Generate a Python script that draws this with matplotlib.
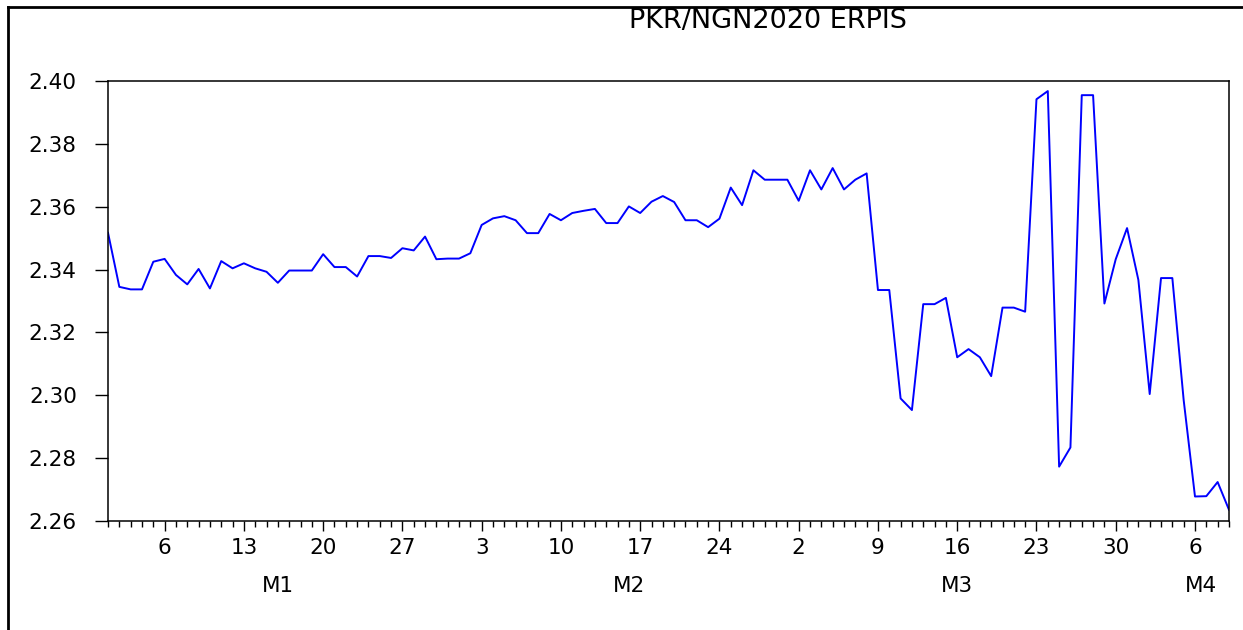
import numpy as np
import pandas as pd
import matplotlib
matplotlib.use('Agg')
import matplotlib.pyplot as plt
import matplotlib.dates as mdates
from matplotlib.lines import Line2D
from matplotlib.transforms import blended_transform_factory

# daily series, 1 Jan 2020 - 9 Apr 2020
start_date = '2020-01-01'
erpis = [
    2.3517, 2.3345, 2.3337, 2.3337, 2.3425, 2.3434, 2.3383, 2.3353, 2.3402, 2.3340,
    2.3427, 2.3404, 2.3420, 2.3404, 2.3393, 2.3358, 2.3397, 2.3397, 2.3397, 2.3449,
    2.3408, 2.3408, 2.3378, 2.3443, 2.3443, 2.3437, 2.3468, 2.3461, 2.3505, 2.3433,
    2.3435, 2.3435, 2.3452, 2.3542, 2.3563, 2.3570, 2.3557, 2.3516, 2.3516, 2.3577,
    2.3557, 2.3580, 2.3587, 2.3593, 2.3548, 2.3548, 2.3601, 2.3580, 2.3616, 2.3634,
    2.3615, 2.3557, 2.3557, 2.3535, 2.3562, 2.3661, 2.3605, 2.3716, 2.3686, 2.3686,
    2.3686, 2.3619, 2.3716, 2.3655, 2.3723, 2.3655, 2.3686, 2.3706, 2.3335, 2.3335,
    2.2990, 2.2953, 2.3290, 2.3290, 2.3310, 2.3121, 2.3147, 2.3121, 2.3061, 2.3279,
    2.3279, 2.3266, 2.3942, 2.3968, 2.2773, 2.2834, 2.3955, 2.3955, 2.3292, 2.3433,
    2.3532, 2.3367, 2.3004, 2.3373, 2.3373, 2.2985, 2.2678, 2.2679, 2.2724, 2.2636,
]
y_ticks = [2.26, 2.28, 2.30, 2.32, 2.34, 2.36, 2.38, 2.40]
month_labels = ['M1', 'M2', 'M3', 'M4']
month_label_dates = ['2020-01-16', '2020-02-16', '2020-03-16', '2020-04-06 12:00']
title = 'PKR/NGN2020 ERPIS'

dates = pd.date_range(start_date, periods=len(erpis), freq='D')

plt.rcParams['font.family'] = ['DejaVu Sans']

fig = plt.figure(figsize=(12.43, 6.30), dpi=100)
ax = fig.add_axes([0.0869, 0.173, 0.9018, 0.6984])

ax.plot(dates, erpis, color='#0000ff', lw=1.4)

ax.set_xlim(dates[0], dates[-1])
ax.set_ylim(2.26, 2.40)
ax.set_yticks(y_ticks)
ax.set_yticklabels([f'{v:.2f}' for v in y_ticks])

ax.xaxis.set_major_locator(mdates.WeekdayLocator(byweekday=mdates.MO))
ax.xaxis.set_major_formatter(plt.FuncFormatter(lambda v, p: str(mdates.num2date(v).day)))
ax.xaxis.set_minor_locator(mdates.DayLocator())

ax.tick_params(axis='y', direction='out', length=9.5, width=1, pad=13, labelsize=15.5)
ax.tick_params(axis='x', which='major', direction='out', length=7.5, width=1, pad=5, labelsize=15.5)
ax.tick_params(axis='x', which='minor', direction='out', length=4.3, width=1)

for s in ax.spines.values():
    s.set_linewidth(1.1)
    s.set_color('black')

trans = blended_transform_factory(ax.transData, ax.transAxes)
for lab, d in zip(month_labels, month_label_dates):
    ax.text(mdates.date2num(pd.Timestamp(d)), -0.148, lab, transform=trans,
            ha='center', va='center', fontsize=15.5)

fig.text(768 / 1243, 1 - 21 / 630, title, ha='center', va='center', fontsize=19.5)

# outer frame lines (top and left)
fig.add_artist(Line2D([8 / 1243, 1.0], [1 - 7 / 630, 1 - 7 / 630], color='black', lw=2,
                      transform=fig.transFigure))
fig.add_artist(Line2D([8 / 1243, 8 / 1243], [0.0, 1 - 7 / 630], color='black', lw=2,
                      transform=fig.transFigure))

plt.savefig('out.png', dpi=100)
